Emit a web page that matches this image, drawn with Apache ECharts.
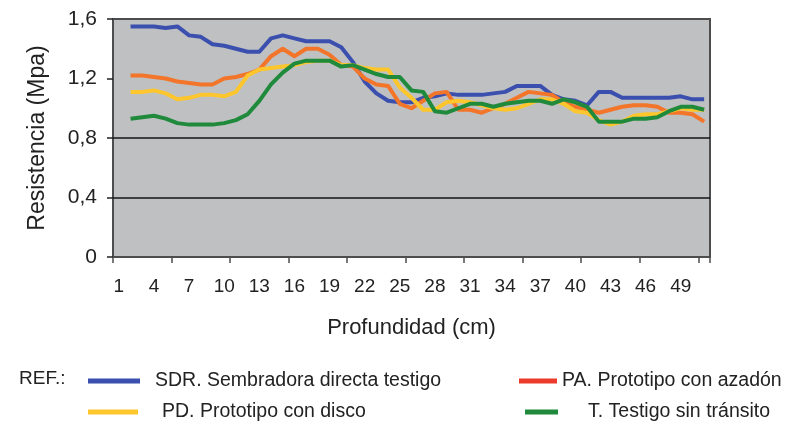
<!DOCTYPE html>
<html><head><meta charset="utf-8">
<script src="https://cdn.jsdelivr.net/npm/echarts@6/dist/echarts.min.js"></script>
<style>html,body{margin:0;padding:0;background:#fff}#c{width:803px;height:423px}</style>
</head><body><div id="c"></div>
<script>
const categories = ['1','2','3','4','5','6','7','8','9','10','11','12','13','14','15','16','17','18','19','20','21','22','23','24','25','26','27','28','29','30','31','32','33','34','35','36','37','38','39','40','41','42','43','44','45','46','47','48','49','50','51'];
const seriesNames = ['SDR. Sembradora directa testigo','PA. Prototipo con azadón','PD. Prototipo con disco','T. Testigo sin tránsito'];
const sdr = [null,1.55,1.55,1.55,1.54,1.55,1.49,1.48,1.43,1.42,1.40,1.38,1.38,1.47,1.49,1.47,1.45,1.45,1.45,1.41,1.31,1.18,1.10,1.05,1.04,1.04,
  1.07,1.08,1.10,1.09,1.09,1.09,1.10,1.11,1.15,1.15,1.15,1.09,1.06,1.05,1.02,1.11,1.11,1.07,1.07,1.07,1.07,1.07,1.08,1.06,1.06];
const pa = [null,1.22,1.22,1.21,1.20,1.18,1.17,1.16,1.16,1.20,1.21,1.23,1.26,1.35,1.40,1.35,1.40,1.40,1.36,1.29,1.28,1.20,1.16,1.15,1.03,1.00,
  1.05,1.10,1.11,0.99,0.99,0.97,1.00,1.03,1.07,1.11,1.10,1.09,1.04,1.01,0.99,0.97,0.99,1.01,1.02,1.02,1.01,0.97,0.97,0.96,0.91];
const pd = [null,1.11,1.11,1.12,1.10,1.06,1.07,1.09,1.09,1.08,1.11,1.22,1.26,1.27,1.28,1.29,1.31,1.32,1.32,1.29,1.29,1.27,1.26,1.26,1.14,1.07,
  0.99,0.99,1.04,1.05,1.04,1.02,1.00,0.99,1.00,1.03,1.06,1.06,1.03,0.98,0.97,0.92,0.89,0.91,0.95,0.96,0.96,0.98,1.00,0.99,0.99];
const tst = [null,0.93,0.94,0.95,0.93,0.90,0.89,0.89,0.89,0.90,0.92,0.96,1.05,1.16,1.24,1.30,1.32,1.32,1.32,1.28,1.29,1.26,1.23,1.21,1.21,1.12,
  1.11,0.98,0.97,1.00,1.03,1.03,1.01,1.03,1.04,1.05,1.05,1.03,1.06,1.04,1.01,0.91,0.91,0.91,0.93,0.93,0.94,0.98,1.01,1.01,0.99];
const gridValues = [0.4, 0.8];

const colors = ['#3b4fae','#f2752a','#fcc62c','#1f8a3b'];
const legendColors = ['#3b4fae','#ec3b2c','#fcc62c','#1f8a3b'];
const FONT = 'Liberation Sans, Arial, sans-serif';

const chart = echarts.init(document.getElementById('c'), null, {renderer:'canvas'});
const dataSets = [sdr, pa, pd, tst];

function legendCfg(i, left, top, w, pad) {
  return {
    left: left, top: top, icon: 'rect', itemWidth: w, itemHeight: 5,
    selectedMode: false,
    data: [{name: seriesNames[i], itemStyle: {color: legendColors[i]}}],
    textStyle: {fontFamily: FONT, fontSize: 19.5, color: '#222', padding: [0,0,0,pad]}
  };
}

chart.setOption({
  animation: false,
  title: {text: 'REF.:', left: 14, top: 364, textStyle: {fontFamily: FONT, fontSize: 19, fontWeight: 'normal', color: '#222'}},
  legend: [
    legendCfg(0, 83, 366, 52, 10),
    legendCfg(1, 514, 366, 38, 0),
    legendCfg(2, 83, 397, 50, 19),
    legendCfg(3, 520, 397, 33, 25)
  ],
  grid: {left: 113, right: 93, top: 19, bottom: 166, show: true, backgroundColor: '#bfc0c2', borderColor: '#4d4d4d', borderWidth: 2},
  xAxis: {
    type: 'category', data: categories, boundaryGap: true,
    name: 'Profundidad (cm)', nameLocation: 'middle', nameGap: 60,
    nameTextStyle: {fontFamily: FONT, fontSize: 22, color: '#222'},
    axisLine: {show: true, lineStyle: {color: '#4d4d4d', width: 2}},
    axisTick: {show: true, interval: 4, length: 6, lineStyle: {color: '#4d4d4d', width: 1.5}},
    axisLabel: {interval: 2, margin: 20, fontFamily: FONT, fontSize: 19, color: '#222'},
    splitLine: {show: false}
  },
  yAxis: {
    type: 'value', min: 0, max: 1.6, interval: 0.4,
    name: 'Resistencia (Mpa)', nameLocation: 'middle', nameGap: 64,
    nameTextStyle: {fontFamily: FONT, fontSize: 23, color: '#222'},
    axisLine: {show: true, lineStyle: {color: '#4d4d4d', width: 2}},
    axisTick: {show: true, length: 6, lineStyle: {color: '#222', width: 1.5}},
    axisLabel: {margin: 16, fontFamily: FONT, fontSize: 21, color: '#222',
      formatter: v => String(Math.round(v*10)/10).replace('.', ',')},
    splitLine: {show: false}
  },
  series: dataSets.map((d, i) => ({
    name: seriesNames[i], type: 'line', data: d, symbol: 'none', smooth: false,
    connectNulls: false, z: 2 + i,
    lineStyle: {color: colors[i], width: 4, join: 'round'},
    itemStyle: {color: colors[i]},
    markLine: i === 0 ? {
      silent: true, symbol: 'none', animation: false, z: 1,
      label: {show: false},
      lineStyle: {color: '#151515', width: 1.5, type: 'solid'},
      data: gridValues.map(v => ({yAxis: v}))
    } : undefined
  }))
});
</script>
</body></html>
